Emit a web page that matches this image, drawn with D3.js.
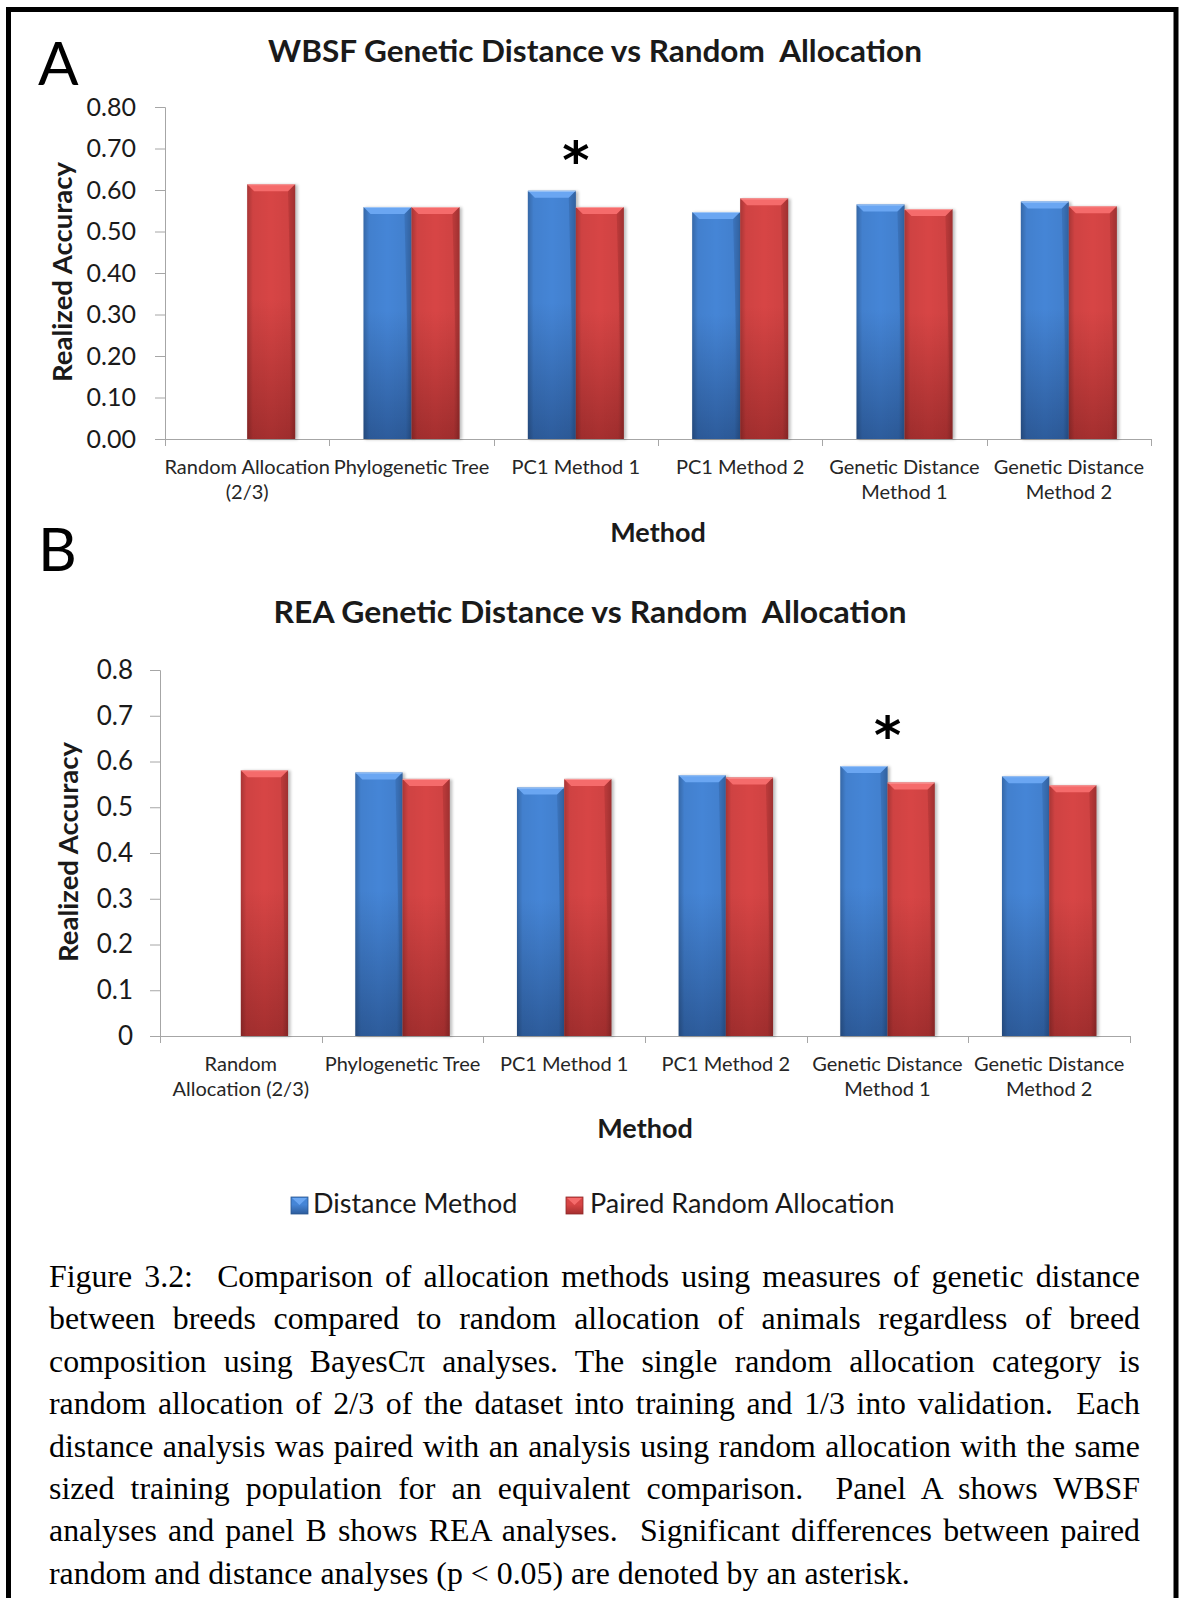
<!DOCTYPE html>
<html>
<head>
<meta charset="utf-8">
<script src="https://cdn.jsdelivr.net/npm/d3@7"></script>
<style>
  html, body { margin: 0; padding: 0; background: #fff; }
  body { position: relative; width: 1183px; height: 1598px; overflow: hidden; }
  svg { position: absolute; left: 0; top: 0; }
  #caption { position: absolute; left: 49px; width: 1091px; top: 1256px;
    font-family: "Liberation Serif", "Times New Roman", serif; font-size: 30px; line-height: 42.4px; color: #000; }
  #caption div { text-align: justify; text-align-last: justify; white-space: nowrap; }
  #caption div.last { text-align-last: left; }
</style>
</head>
<body>
<svg id="chart" width="1183" height="1598"></svg>
<div id="caption"></div>
<script>
// ---------------- DATA ----------------
const categories = ["Random Allocation (2/3)", "Phylogenetic Tree", "PC1 Method 1", "PC1 Method 2", "Genetic Distance Method 1", "Genetic Distance Method 2"];
const tickLabelsA = [["Random Allocation", "(2/3)"], ["Phylogenetic Tree"], ["PC1 Method 1"], ["PC1 Method 2"], ["Genetic Distance", "Method 1"], ["Genetic Distance", "Method 2"]];
const tickLabelsB = [["Random", "Allocation (2/3)"], ["Phylogenetic Tree"], ["PC1 Method 1"], ["PC1 Method 2"], ["Genetic Distance", "Method 1"], ["Genetic Distance", "Method 2"]];
const seriesNames = ["Distance Method", "Paired Random Allocation"];
const wbsfDistance = [null, 0.559, 0.598, 0.547, 0.565, 0.572];
const wbsfPaired   = [0.614, 0.559, 0.559, 0.580, 0.554, 0.561];
const reaDistance  = [null, 0.576, 0.543, 0.570, 0.590, 0.568];
const reaPaired    = [0.581, 0.562, 0.562, 0.565, 0.554, 0.548];
const yTicksA = [0, 0.1, 0.2, 0.3, 0.4, 0.5, 0.6, 0.7, 0.8];
const yTickLabelsA = ["0.00", "0.10", "0.20", "0.30", "0.40", "0.50", "0.60", "0.70", "0.80"];
const yTicksB = [0, 0.1, 0.2, 0.3, 0.4, 0.5, 0.6, 0.7, 0.8];
const yTickLabelsB = ["0", "0.1", "0.2", "0.3", "0.4", "0.5", "0.6", "0.7", "0.8"];
const significantA = ["PC1 Method 1"];
const significantB = ["Genetic Distance Method 1"];
const titleA = "WBSF Genetic Distance vs Random  Allocation";
const titleB = "REA Genetic Distance vs Random  Allocation";
const captionLines = [
  "Figure 3.2:\u00a0 Comparison of allocation methods using measures of genetic distance",
  "between breeds compared to random allocation of animals regardless of breed",
  "composition using BayesC\u03c0 analyses. The single random allocation category is",
  "random allocation of 2/3 of the dataset into training and 1/3 into validation.\u00a0 Each",
  "distance analysis was paired with an analysis using random allocation with the same",
  "sized training population for an equivalent comparison.\u00a0 Panel A shows WBSF",
  "analyses and panel B shows REA analyses.\u00a0 Significant differences between paired",
  "random and distance analyses (p < 0.05) are denoted by an asterisk."
];

// ---------------- STYLE ----------------
const FONT = "Lato, Carlito, Calibri, sans-serif";
const colors = {
  "Distance Method": {top: "#4585D6", bottom: "#2D5C9C", bevel: "#6AA6F2", dark: "#2A568F"},
  "Paired Random Allocation": {top: "#D74545", bottom: "#A52F2F", bevel: "#F56B6B", dark: "#8E2828"}
};

const svg = d3.select("#chart");
const defs = svg.append("defs");
seriesNames.forEach((s, i) => {
  const c = colors[s];
  const g = defs.append("linearGradient").attr("id", "vg" + i).attr("x1", 0).attr("y1", 0).attr("x2", 0).attr("y2", 1);
  g.append("stop").attr("offset", "0%").attr("stop-color", c.top);
  g.append("stop").attr("offset", "45%").attr("stop-color", c.top);
  g.append("stop").attr("offset", "100%").attr("stop-color", c.bottom);
});
const hg = defs.append("linearGradient").attr("id", "hshade").attr("x1", 0).attr("y1", 0).attr("x2", 1).attr("y2", 0);
hg.append("stop").attr("offset", "0%").attr("stop-color", "#000").attr("stop-opacity", 0.22);
hg.append("stop").attr("offset", "12%").attr("stop-color", "#000").attr("stop-opacity", 0.04);
hg.append("stop").attr("offset", "50%").attr("stop-color", "#000").attr("stop-opacity", 0);
hg.append("stop").attr("offset", "88%").attr("stop-color", "#000").attr("stop-opacity", 0.04);
hg.append("stop").attr("offset", "100%").attr("stop-color", "#000").attr("stop-opacity", 0.22);
const blur = defs.append("filter").attr("id", "sh").attr("x", "-20%").attr("y", "-5%").attr("width", "140%").attr("height", "110%");
blur.append("feGaussianBlur").attr("stdDeviation", 1.5);

// outer frame
svg.append("rect").attr("x", 8.5).attr("y", 9.5).attr("width", 1167.5).attr("height", 1620)
  .attr("fill", "none").attr("stroke", "#000").attr("stroke-width", 5);

function drawBar(g, x, y, w, h, si) {
  const c = colors[seriesNames[si]];
  const bev = Math.min(7, h / 2);
  g.append("rect").attr("x", x + 1.5).attr("y", y + 0.5).attr("width", w + 1).attr("height", h)
    .attr("fill", "#000").attr("opacity", 0.25).attr("filter", "url(#sh)");
  g.append("rect").attr("x", x).attr("y", y).attr("width", w).attr("height", h).attr("fill", `url(#vg${si})`);
  g.append("rect").attr("x", x).attr("y", y).attr("width", w).attr("height", h).attr("fill", "url(#hshade)");
  g.append("polygon").attr("points", [[x, y], [x + w, y], [x + w - bev, y + bev], [x + bev, y + bev]].map(p => p.join(",")).join(" "))
    .attr("fill", c.bevel);
  g.append("polygon").attr("points", [[x + w, y], [x + w, y + h], [x + w - 1.5, y + h], [x + w - bev, y + bev]].map(p => p.join(",")).join(" "))
    .attr("fill", c.dark).attr("opacity", 0.35);
  g.append("rect").attr("x", x).attr("y", y).attr("width", w).attr("height", 1).attr("fill", "#fff").attr("opacity", 0.35);
}

function fitWidth(textSel, width) {
  textSel.attr("textLength", width).attr("lengthAdjust", "spacingAndGlyphs");
}

function drawPanel(cfg) {
  const g = svg.append("g");
  const x = d3.scaleBand().domain(categories).range([cfg.x0, cfg.x1]).paddingInner(0).paddingOuter(0);
  const bw = x.bandwidth();
  const xs = d3.scaleBand().domain(seriesNames).range([bw * 0.208, bw * 0.792]).padding(0);
  const y = d3.scaleLinear().domain([0, 0.8]).range([cfg.y0, cfg.y1]);

  // y axis
  const ya = d3.axisLeft(y).tickValues(cfg.yTicks).tickFormat((d, i) => cfg.yTickLabels[i]).tickSize(10).tickPadding(cfg.tickPad);
  const yg = g.append("g").attr("transform", `translate(${cfg.x0},0)`).call(ya);
  yg.select(".domain").attr("stroke", "#a6a6a6").attr("d", `M-10,${cfg.y1 + 0.5}H0.5V${cfg.y0}`);
  yg.selectAll(".tick line").attr("stroke", "#a6a6a6");
  yg.selectAll(".tick text").attr("font-family", FONT).attr("font-size", cfg.tickFont).attr("fill", "#1a1a1a");

  // x axis baseline and boundary ticks
  g.append("line").attr("x1", cfg.x0).attr("x2", cfg.x1).attr("y1", cfg.y0 + 0.5).attr("y2", cfg.y0 + 0.5).attr("stroke", "#a6a6a6");
  const bounds = categories.map(c => x(c)).concat([x(categories[categories.length - 1]) + bw]);
  g.selectAll(".xt").data(bounds).enter().append("line")
    .attr("x1", d => Math.round(d) + 0.5).attr("x2", d => Math.round(d) + 0.5)
    .attr("y1", cfg.y0).attr("y2", cfg.y0 + 7).attr("stroke", "#a6a6a6");

  // bars
  const bars = g.append("g");
  categories.forEach((cat, ci) => {
    [cfg.distance[ci], cfg.paired[ci]].forEach((v, si) => {
      if (v == null) return;
      drawBar(bars, x(cat) + xs(seriesNames[si]), y(v), xs.bandwidth(), y(0) - y(v), si);
    });
  });

  // category labels
  categories.forEach((cat, ci) => {
    const t = g.append("text").attr("x", x(cat) + bw / 2).attr("y", cfg.y0 + 35)
      .attr("text-anchor", "middle").attr("font-family", FONT).attr("font-size", 20).attr("fill", "#262626");
    cfg.tickLabels[ci].forEach((line, li) => {
      t.append("tspan").attr("x", x(cat) + bw / 2).attr("dy", li === 0 ? 0 : 25).text(line);
    });
  });

  // significance asterisks
  cfg.significant.forEach(cat => {
    const ci = categories.indexOf(cat);
    const top = d3.max([cfg.distance[ci], cfg.paired[ci]]);
    g.append("text").attr("x", x(cat) + bw / 2).attr("y", y(top) - 35 + 22)
      .attr("text-anchor", "middle").attr("font-family", "DejaVu Sans, sans-serif").attr("font-weight", "bold")
      .attr("font-size", 52).attr("fill", "#000").text("*");
  });

  // titles
  const tt = g.append("text").attr("x", cfg.titleX).attr("y", cfg.titleY).attr("text-anchor", "middle")
    .attr("font-family", FONT).attr("font-weight", "bold").attr("font-size", 30).attr("fill", "#1a1a1a")
    .attr("xml:space", "preserve").style("white-space", "pre").text(cfg.title);
  fitWidth(tt, cfg.titleW);
  g.append("text").attr("x", (cfg.x0 + cfg.x1) / 2).attr("y", cfg.methodY).attr("text-anchor", "middle")
    .attr("font-family", FONT).attr("font-weight", "bold").attr("font-size", 27).attr("fill", "#1a1a1a").text("Method");
  g.append("text").attr("transform", `translate(${cfg.ylabX},${cfg.ylabY}) rotate(-90)`).attr("text-anchor", "middle")
    .attr("font-family", FONT).attr("font-weight", "bold").attr("font-size", 27.5).attr("fill", "#1a1a1a").text("Realized Accuracy");
  g.append("text").attr("x", cfg.letterX).attr("y", cfg.letterY).attr("font-family", FONT)
    .attr("font-size", 60).attr("fill", "#000").text(cfg.letter);
}

drawPanel({x0: 165, x1: 1151, y0: 439, y1: 107, yTicks: yTicksA, yTickLabels: yTickLabelsA, tickFont: 25, tickPad: 19,
  distance: wbsfDistance, paired: wbsfPaired, tickLabels: tickLabelsA, significant: significantA,
  title: titleA, titleX: 595, titleY: 62, titleW: 654, methodY: 542, ylabX: 72, ylabY: 272, letter: "A", letterX: 38, letterY: 85});
drawPanel({x0: 160, x1: 1130, y0: 1036, y1: 670, yTicks: yTicksB, yTickLabels: yTickLabelsB, tickFont: 26, tickPad: 17,
  distance: reaDistance, paired: reaPaired, tickLabels: tickLabelsB, significant: significantB,
  title: titleB, titleX: 590, titleY: 623, titleW: 633, methodY: 1138, ylabX: 78, ylabY: 852, letter: "B", letterX: 38, letterY: 571});

// legend
const legend = svg.append("g");
const legendItems = [{name: seriesNames[0], sx: 291, tx: 313}, {name: seriesNames[1], sx: 566, tx: 590}];
legendItems.forEach((it, i) => {
  const s = 17, ly = 1197;
  const c = colors[it.name];
  legend.append("rect").attr("x", it.sx).attr("y", ly).attr("width", s).attr("height", s).attr("fill", `url(#vg${i})`)
    .attr("stroke", c.dark).attr("stroke-width", 0.8);
  legend.append("polygon").attr("points", [[it.sx + 1, ly + 1], [it.sx + s - 1, ly + 1], [it.sx + s / 2, ly + 8]].map(p => p.join(",")).join(" "))
    .attr("fill", c.bevel);
  legend.append("text").attr("x", it.tx).attr("y", 1213).attr("font-family", FONT).attr("font-size", 27)
    .attr("fill", "#1a1a1a").text(it.name);
});

// caption: font size chosen so the (unjustified) last line spans the same width as in the figure
const cap = d3.select("#caption");
const probe = cap.append("span").style("white-space", "nowrap").text(captionLines[captionLines.length - 1]);
const natural = probe.node().getBoundingClientRect().width;
probe.remove();
let fs = 30 * 861 / natural;
cap.style("font-size", fs + "px");
captionLines.forEach((l, i) => {
  cap.append("div").attr("class", i === captionLines.length - 1 ? "last" : null).text(l);
});
// guard: ensure no line overflows
cap.selectAll("div").each(function () {
  const el = this;
  const s = document.createElement("span");
  s.style.whiteSpace = "nowrap"; s.textContent = el.textContent;
  el.textContent = ""; el.appendChild(s);
  const w = s.getBoundingClientRect().width;
  el.textContent = s.textContent;
  if (w > 1091) { fs = Math.min(fs, fs * 1091 / w); }
});
cap.style("font-size", fs + "px");
</script>
</body>
</html>
